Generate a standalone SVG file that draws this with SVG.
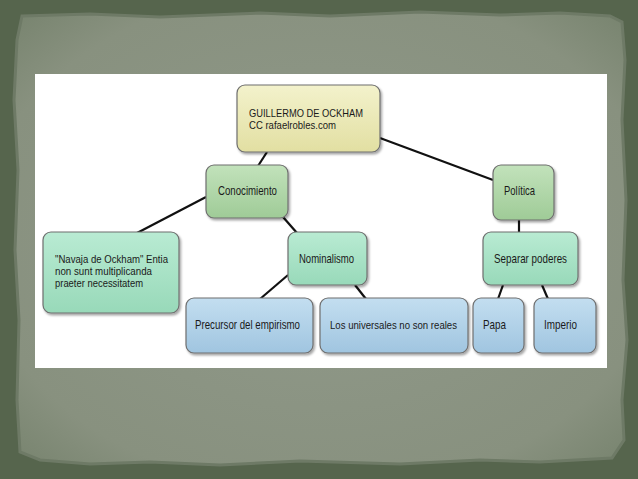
<svg xmlns="http://www.w3.org/2000/svg" width="638" height="479" viewBox="0 0 638 479">
<defs>
<linearGradient id="gY" x1="0" y1="0" x2="0" y2="1"><stop offset="0" stop-color="#f3f2cc"/><stop offset="1" stop-color="#e2dfa2"/></linearGradient>
<linearGradient id="gG" x1="0" y1="0" x2="0" y2="1"><stop offset="0" stop-color="#c2e2bb"/><stop offset="1" stop-color="#9fcb97"/></linearGradient>
<linearGradient id="gA" x1="0" y1="0" x2="0" y2="1"><stop offset="0" stop-color="#b9ebd3"/><stop offset="1" stop-color="#98d9b9"/></linearGradient>
<linearGradient id="gB" x1="0" y1="0" x2="0" y2="1"><stop offset="0" stop-color="#c3def0"/><stop offset="1" stop-color="#a0c5e0"/></linearGradient>
<filter id="sh" x="-10%" y="-10%" width="125%" height="130%"><feDropShadow dx="1.5" dy="2" stdDeviation="1.2" flood-color="#000" flood-opacity="0.35"/></filter>
<radialGradient id="paper" cx="0.5" cy="0.5" r="0.7"><stop offset="0" stop-color="#919a8b"/><stop offset="0.8" stop-color="#88917f"/><stop offset="1" stop-color="#78846f"/></radialGradient>
</defs>
<style>
.n{stroke:#6f6f6f;stroke-width:1.2;filter:url(#sh)}
.t{font-family:"Liberation Sans",Arial,sans-serif;font-size:13px;fill:#1a1a1a}
.s{font-size:11.5px}
.c{stroke:#111;stroke-width:2.2;fill:none}
</style>
<rect x="0" y="0" width="638" height="479" fill="#56654d"/>
<path d="M22 16 L90 14 L160 17 L260 13 L330 16 L420 12 L500 15 L560 13 L610 16 L622 22 L625 60 L622 120 L626 200 L623 280 L627 340 L622 400 L624 440 L612 458 L540 462 L480 460 L400 464 L300 461 L220 465 L150 462 L90 464 L40 460 L20 452 L17 400 L19 320 L15 250 L18 170 L14 100 L17 40 Z" fill="url(#paper)" stroke="#6e7a66" stroke-width="3"/>
<rect x="35" y="74" width="572" height="294" fill="#ffffff"/>
<g id="connectors">
<line class="c" x1="267" y1="152" x2="258" y2="166"/>
<line class="c" x1="380" y1="138" x2="493" y2="180"/>
<line class="c" x1="206" y1="197" x2="137" y2="233"/>
<line class="c" x1="283" y1="217" x2="297" y2="233"/>
<line class="c" x1="288" y1="275" x2="260" y2="299"/>
<line class="c" x1="355" y1="285" x2="366" y2="299"/>
<line class="c" x1="519" y1="219" x2="519" y2="233"/>
<line class="c" x1="503" y1="285" x2="498" y2="299"/>
<line class="c" x1="542" y1="285" x2="548" y2="299"/>
</g>
<g id="n-guillermo"><rect class="n" x="237" y="85" width="143" height="67" rx="8" fill="url(#gY)"/><text class="t s" x="249" y="117" textLength="114" lengthAdjust="spacingAndGlyphs">GUILLERMO DE OCKHAM</text><text class="t s" x="249" y="129" textLength="87" lengthAdjust="spacingAndGlyphs">CC rafaelrobles.com</text></g>
<g id="n-conocimiento"><rect class="n" x="206" y="165" width="82" height="53" rx="8" fill="url(#gG)"/><text class="t" x="218" y="195" textLength="59" lengthAdjust="spacingAndGlyphs">Conocimiento</text></g>
<g id="n-politica"><rect class="n" x="493" y="165" width="61" height="55" rx="8" fill="url(#gG)"/><text class="t" x="504" y="195" textLength="31" lengthAdjust="spacingAndGlyphs">Política</text></g>
<g id="n-navaja"><rect class="n" x="43" y="232" width="136" height="81" rx="8" fill="url(#gA)"/><text class="t s" x="55" y="263" textLength="113" lengthAdjust="spacingAndGlyphs">"Navaja de Ockham" Entia</text><text class="t s" x="55" y="275" textLength="97" lengthAdjust="spacingAndGlyphs">non sunt multiplicanda</text><text class="t s" x="55" y="287" textLength="88" lengthAdjust="spacingAndGlyphs">praeter necessitatem</text></g>
<g id="n-nominalismo"><rect class="n" x="288" y="232" width="79" height="53" rx="8" fill="url(#gA)"/><text class="t" x="299" y="263" textLength="55" lengthAdjust="spacingAndGlyphs">Nominalismo</text></g>
<g id="n-separar"><rect class="n" x="483" y="232" width="95" height="53" rx="8" fill="url(#gA)"/><text class="t" x="494" y="263" textLength="73" lengthAdjust="spacingAndGlyphs">Separar poderes</text></g>
<g id="n-precursor"><rect class="n" x="186" y="298" width="127" height="55" rx="8" fill="url(#gB)"/><text class="t" x="195" y="329" textLength="105" lengthAdjust="spacingAndGlyphs">Precursor del empirismo</text></g>
<g id="n-universales"><rect class="n" x="320" y="298" width="148" height="55" rx="8" fill="url(#gB)"/><text class="t s" x="393.5" y="329" text-anchor="middle" textLength="127" lengthAdjust="spacingAndGlyphs">Los universales no son reales</text></g>
<g id="n-papa"><rect class="n" x="473" y="298" width="51" height="55" rx="8" fill="url(#gB)"/><text class="t" x="483" y="329" textLength="23" lengthAdjust="spacingAndGlyphs">Papa</text></g>
<g id="n-imperio"><rect class="n" x="534" y="298" width="62" height="55" rx="8" fill="url(#gB)"/><text class="t" x="544" y="329" textLength="33" lengthAdjust="spacingAndGlyphs">Imperio</text></g>
</svg>
